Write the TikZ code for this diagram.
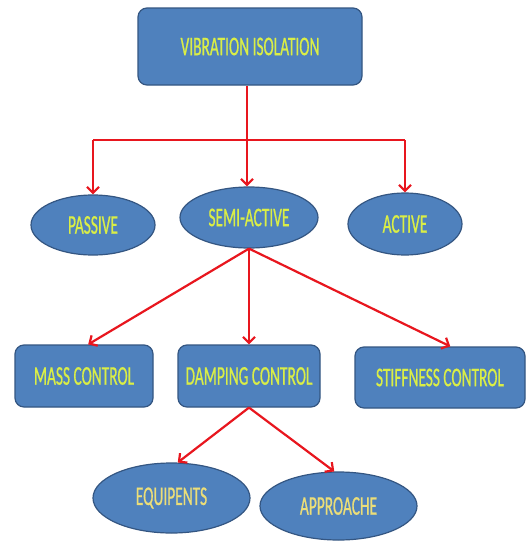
\documentclass[tikz,border=0pt]{standalone}
\usepackage{fontspec}
\newfontfamily\diafont[FakeStretch=0.57,FakeBold=0.6]{Carlito}
\usetikzlibrary{shapes.geometric,arrows.meta,calc}
\definecolor{boxfill}{RGB}{79,129,189}
\definecolor{boxline}{RGB}{52,86,130}
\definecolor{txt}{RGB}{218,238,70}
\definecolor{txtb}{RGB}{236,222,120}
\definecolor{arr}{RGB}{232,22,30}
\begin{document}
\begin{tikzpicture}[x=1pt,y=-1pt,
  base/.style={draw=boxline, line width=1.2pt, fill=boxfill, text=txt,
    font=\diafont\fontsize{27}{27}\selectfont, inner sep=0pt},
  rbox/.style={base, rectangle, rounded corners=9pt},
  oval/.style={base, ellipse},
  link/.style={draw=arr, line width=2.2pt, -{Straight Barb[length=6pt,width=12pt,line width=2.2pt]}},
  plain/.style={draw=arr, line width=2.2pt}]
\useasboundingbox (0,0) rectangle (528,541);
\fill[white] (0,0) rectangle (528,541);

\node[rbox, minimum width=224pt, minimum height=77pt] (top) at (250,46.5) {VIBRATION ISOLATION};

\node[oval, minimum width=124pt, minimum height=60pt] (passive) at (93,225) {PASSIVE};
\node[oval, minimum width=138pt, minimum height=61pt] (semi) at (249,217.5) {SEMI-ACTIVE};
\node[oval, minimum width=114pt, minimum height=62pt] (active) at (405,224) {ACTIVE};

\node[rbox, minimum width=138pt, minimum height=62pt] (mass) at (84,376) {MASS CONTROL};
\node[rbox, minimum width=142pt, minimum height=62pt] (damp) at (249,376) {DAMPING CONTROL};
\node[rbox, minimum width=170pt, minimum height=61pt] (stiff) at (440,377.5) {STIFFNESS CONTROL};

\node[oval, text=txtb, minimum width=157pt, minimum height=70pt] (equip) at (171.5,498) {EQUIPENTS};
\node[oval, text=txtb, minimum width=157pt, minimum height=68pt] (appr) at (338.5,506) {APPROACHE};

\coordinate (split) at (247,140);
\draw[plain] (top.south -| split) -- (split);
\draw[plain] (passive.north |- split) -- (active.north |- split);
\draw[link] (passive.north |- split) -- (passive.north);
\draw[link] (active.north |- split) -- (active.north);
\draw[link] (split) -- (semi.north -| split);

\draw[link] (semi.south) -- ($(mass.north west)!0.53!(mass.north east)$);
\draw[link] (semi.south) -- (damp.north);
\draw[link] (semi.south) -- ($(stiff.north west)!0.56!(stiff.north east)$);

\draw[link] (damp.south) -- (equip.80);
\draw[link] (damp.south) -- (appr.97);
\end{tikzpicture}
\end{document}
